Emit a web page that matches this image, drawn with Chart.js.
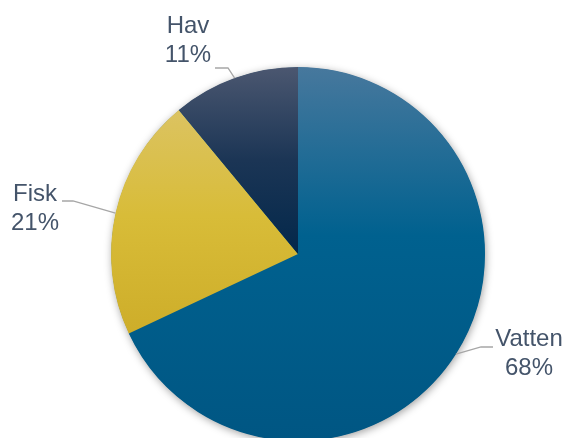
<!DOCTYPE html>
<html>
<head>
<meta charset="utf-8">
<script src="https://cdn.jsdelivr.net/npm/chart.js@4"></script>
<style>
  html, body { margin: 0; padding: 0; background: #fff; overflow: hidden; }
  #wrap { position: relative; width: 566px; height: 460px; }
</style>
</head>
<body>
<div id="wrap"><canvas id="mychart"></canvas></div>
<script>
// categories and shares (percent)
var labels = ['Vatten', 'Fisk', 'Hav'];
var values = [68, 21, 11];

// gradient stops per slice, top of pie -> bottom of pie
var gradStops = [
    [[0, '#47789d'], [0.45, '#00618f'], [1, '#005683']],
    [[0, '#ddc672'], [0.4, '#d8bc38'], [1, '#c4a01c']],
    [[0, '#4b5770'], [0.25, '#1b3555'], [0.5, '#03284b'], [1, '#03284b']]
];

// where each label sits: text centre x, first baseline y, leader elbow and end
var labelSpots = [
    { x: 529, y: 346, elbow: [481, 347], end: [493, 347] },
    { x: 35, y: 201, elbow: [73, 201], end: [62, 201] },
    { x: 188, y: 33, elbow: [228, 68], end: [215, 68] }
];

function sliceFill(context) {
    var chart = context.chart;
    var area = chart.chartArea;
    if (!area) return gradStops[context.dataIndex][0][1];
    var g = chart.ctx.createLinearGradient(0, area.top, 0, area.bottom);
    gradStops[context.dataIndex].forEach(function (s) { g.addColorStop(s[0], s[1]); });
    return g;
}

// soft shadow under the whole pie
var pieShadow = {
    id: 'pieShadow',
    beforeDatasetsDraw: function (chart) {
        var arc = chart.getDatasetMeta(0).data[0];
        if (!arc) return;
        var ctx = chart.ctx;
        ctx.save();
        ctx.shadowColor = 'rgba(0,0,0,0.4)';
        ctx.shadowBlur = 8;
        ctx.shadowOffsetX = 1;
        ctx.shadowOffsetY = 2;
        ctx.fillStyle = '#005a88';
        ctx.beginPath();
        ctx.arc(arc.x, arc.y, arc.outerRadius - 0.5, 0, Math.PI * 2);
        ctx.fill();
        ctx.restore();
    }
};

// category name + percent with a grey leader line to the slice edge
var outsideLabels = {
    id: 'outsideLabels',
    afterDatasetsDraw: function (chart) {
        var ctx = chart.ctx;
        var meta = chart.getDatasetMeta(0);
        var total = values.reduce(function (a, b) { return a + b; }, 0);
        ctx.save();
        meta.data.forEach(function (arc, i) {
            var spot = labelSpots[i];
            var mid = (arc.startAngle + arc.endAngle) / 2;
            var ex = arc.x + Math.cos(mid) * arc.outerRadius;
            var ey = arc.y + Math.sin(mid) * arc.outerRadius;
            ctx.strokeStyle = '#a6a6a6';
            ctx.lineWidth = 1.3;
            ctx.beginPath();
            ctx.moveTo(ex, ey);
            ctx.lineTo(spot.elbow[0], spot.elbow[1]);
            ctx.lineTo(spot.end[0], spot.end[1]);
            ctx.stroke();

            ctx.fillStyle = '#44546a';
            ctx.font = '24px "Liberation Sans", Arial, sans-serif';
            ctx.textAlign = 'center';
            ctx.textBaseline = 'alphabetic';
            ctx.fillText(labels[i], spot.x, spot.y);
            ctx.fillText(Math.round(values[i] / total * 100) + '%', spot.x, spot.y + 29);
        });
        ctx.restore();
    }
};

var ctx = document.getElementById('mychart').getContext('2d');
var chart = new Chart(ctx, {
    type: 'pie',
    data: {
        labels: labels,
        datasets: [{
            data: values,
            backgroundColor: sliceFill,
            borderWidth: 0
        }]
    },
    options: {
        responsive: true,
        maintainAspectRatio: false,
        animation: false,
        layout: { padding: { left: 111, right: 81, top: 67, bottom: 19 } },
        plugins: {
            legend: { display: false },
            tooltip: { enabled: false }
        }
    },
    plugins: [pieShadow, outsideLabels]
});
</script>
</body>
</html>
